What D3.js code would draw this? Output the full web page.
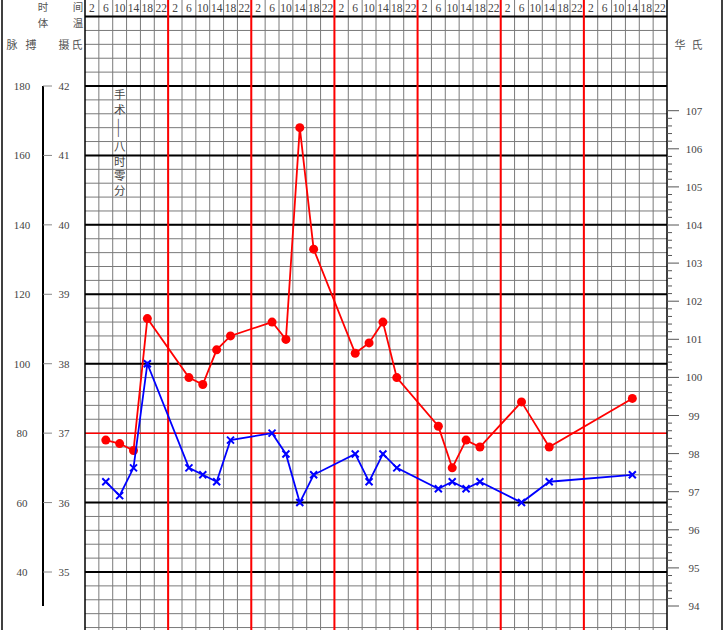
<!DOCTYPE html>
<html><head><meta charset="utf-8">
<script src="https://cdn.jsdelivr.net/npm/d3@7"></script>
<style>html,body{margin:0;padding:0;background:#fff;}svg{display:block;}</style>
</head><body>
<script>
// ---- data ----
const hours = ["2","6","10","14","18","22"];
const dayCount = 7;
const tempSlots = [1,2,3,4,7,8,9,10,13,14,15,16,19,20,21,22,25,26,27,28,31,33,39];
const tempValues = [36.9,36.85,36.75,38.65,37.8,37.7,38.2,38.4,38.6,38.35,41.4,39.65,38.15,38.3,38.6,37.8,37.1,36.5,36.9,36.8,37.45,36.8,37.5];
const pulseSlots = [1,2,3,4,7,8,9,10,13,14,15,16,19,20,21,22,25,26,27,28,31,33,39];
const pulseValues = [66,62,70,100,70,68,66,78,80,74,60,68,74,66,74,70,64,66,64,66,60,66,68];
const celsiusTicks = [35,36,37,38,39,40,41,42];
const pulseTicks = [40,60,80,100,120,140,160,180];
const fahrenheitTicks = [94,95,96,97,98,99,100,101,102,103,104,105,106,107];
const noteText = "手术——八时零分";

const W = 725, H = 630;
const svg = d3.select("body").append("svg").attr("width", W).attr("height", H);
svg.append("rect").attr("width", W).attr("height", H).attr("fill", "#fff");

const gx0 = 85, gx1 = 667;
const slots = d3.range(hours.length * dayCount);
const x = d3.scaleBand().domain(slots).range([gx0, gx1]).padding(0);
const yC = d3.scaleLinear().domain([35, 42]).range([572, 86]);
const yP = d3.scaleLinear().domain([40, 180]).range([572, 86]);
const yF = d3.scaleLinear().domain([94, 107]).range([606, 110.7]);

const num = "'Liberation Serif','DejaVu Serif',serif";
const cjk = "'Noto Sans CJK SC',sans-serif";
const txt = "#444";

// ---- grid ----
const g = svg.append("g");
slots.forEach(i => {
  if (i === 0) return;
  g.append("line").attr("x1", x(i)).attr("x2", x(i)).attr("y1", 0).attr("y2", H)
   .attr("stroke", "#7a7a7a").attr("stroke-width", 1);
});
const topT = 43;
for (let k = 0; ; k++) {
  const t = +(topT - k * 0.2).toFixed(1);
  const yy = yC(t);
  if (yy > H) break;
  g.append("line").attr("x1", gx0).attr("x2", gx1).attr("y1", yy).attr("y2", yy)
   .attr("stroke", "#7a7a7a").attr("stroke-width", 1);
}
[43].concat(celsiusTicks).forEach(t => {
  if (t === 37) return;
  g.append("line").attr("x1", gx0).attr("x2", gx1).attr("y1", yC(t)).attr("y2", yC(t))
   .attr("stroke", "#000").attr("stroke-width", 2);
});
g.append("line").attr("x1", gx0).attr("x2", gx1).attr("y1", yC(37)).attr("y2", yC(37))
 .attr("stroke", "#ff0000").attr("stroke-width", 1.5);
d3.range(1, dayCount).forEach(d => {
  const xx = x(d * hours.length);
  g.append("line").attr("x1", xx).attr("x2", xx).attr("y1", 0).attr("y2", H)
   .attr("stroke", "#ff0000").attr("stroke-width", 2);
});
[gx0, gx1].forEach(xx => g.append("line").attr("x1", xx).attr("x2", xx).attr("y1", 0).attr("y2", H)
  .attr("stroke", "#000").attr("stroke-width", 1.5));
[2, 722].forEach(xx => g.append("line").attr("x1", xx).attr("x2", xx).attr("y1", 0).attr("y2", H)
  .attr("stroke", "#000").attr("stroke-width", 1.5));

// ---- header hours ----
slots.forEach(i => {
  svg.append("text").attr("x", x(i) + x.bandwidth() / 2).attr("y", 12)
    .attr("text-anchor", "middle").attr("font-family", num).attr("font-size", 11.5)
    .attr("fill", txt).text(hours[i % hours.length]);
});

function lab(t, xx, yy, size) {
  svg.append("text").attr("x", xx).attr("y", yy).attr("text-anchor", "middle")
    .attr("font-family", cjk).attr("font-size", size || 11).attr("fill", "#555").text(t);
}
lab("时", 43, 11, 10.5); lab("间", 78, 11, 10.5);
lab("体", 43, 27, 10.5); lab("温", 78, 27, 10.5);
lab("脉", 12, 49); lab("搏", 31, 49); lab("摄", 64, 49); lab("氏", 77, 49);
lab("华", 680, 49); lab("氏", 697, 49);

// ---- left axes ----
svg.append("line").attr("x1", 43).attr("x2", 43).attr("y1", yC(42)).attr("y2", 606)
  .attr("stroke", "#000").attr("stroke-width", 2);
celsiusTicks.forEach(t => {
  svg.append("line").attr("x1", 43).attr("x2", 52).attr("y1", yC(t)).attr("y2", yC(t))
    .attr("stroke", "#888").attr("stroke-width", 1);
  svg.append("text").attr("x", 64).attr("y", yC(t) + 4).attr("text-anchor", "middle")
    .attr("font-family", num).attr("font-size", 11).attr("fill", txt).text(t);
});
pulseTicks.forEach(p => {
  svg.append("text").attr("x", 22).attr("y", yP(p) + 4).attr("text-anchor", "middle")
    .attr("font-family", num).attr("font-size", 11).attr("fill", txt).text(p);
});

// ---- right Fahrenheit axis ----
const fMinor = d3.range(0, 13 * 5 + 1).map(k => 94 + k * 0.2);
fMinor.forEach((f, k) => {
  const major = k % 5 === 0;
  svg.append("line").attr("x1", gx1).attr("x2", major ? 679 : 672)
    .attr("y1", yF(f)).attr("y2", yF(f)).attr("stroke", "#555").attr("stroke-width", 1);
});
fahrenheitTicks.forEach(f => {
  svg.append("text").attr("x", 694).attr("y", yF(f) + 4).attr("text-anchor", "middle")
    .attr("font-family", num).attr("font-size", 11).attr("fill", txt).text(f);
});

// ---- annotation (vertical text) ----
const noteX = x(2) + x.bandwidth() / 2;
const rowH = yC(41.8) - yC(42);
svg.append("text")
  .attr("x", noteX).attr("y", yC(42) + 3)
  .style("writing-mode", "vertical-rl")
  .attr("font-family", cjk).attr("font-size", 11.5)
  .attr("letter-spacing", rowH - 11.5 + 0.8)
  .attr("fill", txt).text(noteText);

// ---- series ----
const cx = i => x(i) + x.bandwidth() / 2;
const tData = tempSlots.map((s, i) => [cx(s), yC(tempValues[i])]);
const pData = pulseSlots.map((s, i) => [cx(s), yP(pulseValues[i])]);
const line = d3.line();
svg.append("path").attr("d", line(tData)).attr("fill", "none").attr("stroke", "#ff0000").attr("stroke-width", 1.8);
svg.selectAll(".dot").data(tData).join("circle").attr("cx", d => d[0]).attr("cy", d => d[1])
  .attr("r", 4.5).attr("fill", "#ff0000");
svg.append("path").attr("d", line(pData)).attr("fill", "none").attr("stroke", "#0000ff").attr("stroke-width", 1.8);
const s = 3.5;
pData.forEach(d => {
  svg.append("path").attr("d", `M${d[0]-s},${d[1]-s}L${d[0]+s},${d[1]+s}M${d[0]-s},${d[1]+s}L${d[0]+s},${d[1]-s}`)
    .attr("stroke", "#0000ff").attr("stroke-width", 2).attr("fill", "none");
});
</script>
</body></html>
